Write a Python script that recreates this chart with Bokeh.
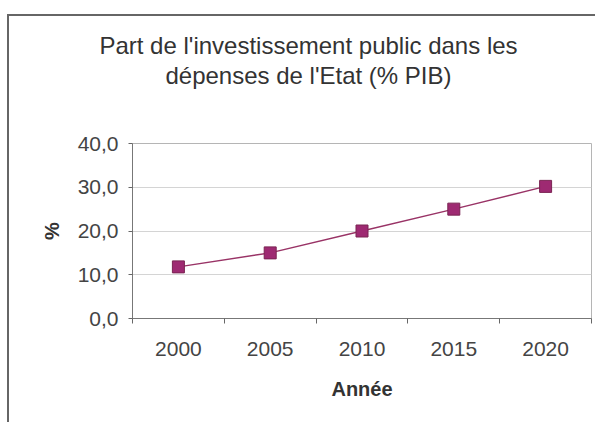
from bokeh.plotting import figure
from bokeh.layouts import column
from bokeh.models import Range1d, FixedTicker, Label
from bokeh.embed import file_html
from bokeh.resources import INLINE

years = [2000, 2005, 2010, 2015, 2020]
values = [11.8, 15.0, 20.0, 25.0, 30.2]
y_ticks = [0, 10, 20, 30, 40]
y_labels = ["0,0", "10,0", "20,0", "30,0", "40,0"]
title_lines = ["Part de l'investissement public dans les", "dépenses de l'Etat (% PIB)"]

FONT = "Liberation Sans"
COLOR = "#993366"
W = 595
TOP_H = 130

# ---- title strip (a figure without axes, pixel-like ranges) ----
t = figure(width=W, height=TOP_H, output_backend="svg", toolbar_location=None,
           x_range=Range1d(0, W), y_range=Range1d(TOP_H, 0),
           x_axis_type=None, y_axis_type=None, min_border=0)
t.frame_align = False
t.outline_line_color = None
t.background_fill_color = None
t.border_fill_color = None
t.grid.visible = False
for txt, yy in zip(title_lines, [45, 75]):
    t.add_layout(Label(x=308, y=yy, text=txt, text_align="center", text_baseline="middle",
                       text_font=FONT, text_font_size="24px", text_color="#333333"))

# ---- chart ----
p = figure(width=W, height=292, output_backend="svg", toolbar_location=None,
           x_range=Range1d(1997.5, 2022.5), y_range=Range1d(0, 40),
           min_border_left=132, min_border_right=4, min_border_top=13, min_border_bottom=104)
p.frame_align = False
p.outline_line_color = "#b5b5b5"
p.outline_line_width = 1
p.background_fill_color = None
p.border_fill_color = None

xa = p.xaxis[0]
xa.ticker = FixedTicker(ticks=years, minor_ticks=[1997.5, 2002.5, 2007.5, 2012.5, 2017.5, 2022.5])
xa.major_tick_out = 0
xa.major_tick_in = 0
xa.minor_tick_out = 5
xa.minor_tick_in = 0
xa.minor_tick_line_color = "#666666"
xa.axis_line_color = "#777777"
xa.major_label_text_font = FONT
xa.major_label_text_font_size = "21px"
xa.major_label_text_color = "#444444"
xa.major_label_standoff = 18
xa.axis_label = "Année"
xa.axis_label_text_font = FONT
xa.axis_label_text_font_size = "20px"
xa.axis_label_text_font_style = "bold"
xa.axis_label_text_color = "#333333"
xa.axis_label_standoff = 19

ya = p.yaxis[0]
ya.ticker = FixedTicker(ticks=y_ticks)
ya.major_label_overrides = {tk: lb for tk, lb in zip(y_ticks, y_labels)}
ya.major_tick_out = 4
ya.major_tick_in = 0
ya.minor_tick_out = 0
ya.minor_tick_in = 0
ya.major_tick_line_color = "#666666"
ya.axis_line_color = "#777777"
ya.major_label_text_font = FONT
ya.major_label_text_font_size = "21px"
ya.major_label_text_color = "#444444"
ya.major_label_standoff = 10
ya.axis_label = "%"
ya.axis_label_text_font = FONT
ya.axis_label_text_font_size = "20px"
ya.axis_label_text_font_style = "bold"
ya.axis_label_text_color = "#333333"
ya.axis_label_standoff = 12

p.xgrid.grid_line_color = None
p.ygrid.grid_line_color = "#d4d4d4"
p.ygrid.grid_line_width = 1

p.line(years, values, line_color=COLOR, line_width=1.5)
p.scatter(years, values, marker="square", size=12, fill_color="#9e2a72", line_color="#7a2452")

layout = column(t, p, spacing=0)
layout.styles = {"box-shadow": "inset 7px 14px 0 0 white, inset 9px 16px 0 0 #666666",
                 "background-color": "white"}

open("out.html", "w").write(file_html(layout, INLINE))
